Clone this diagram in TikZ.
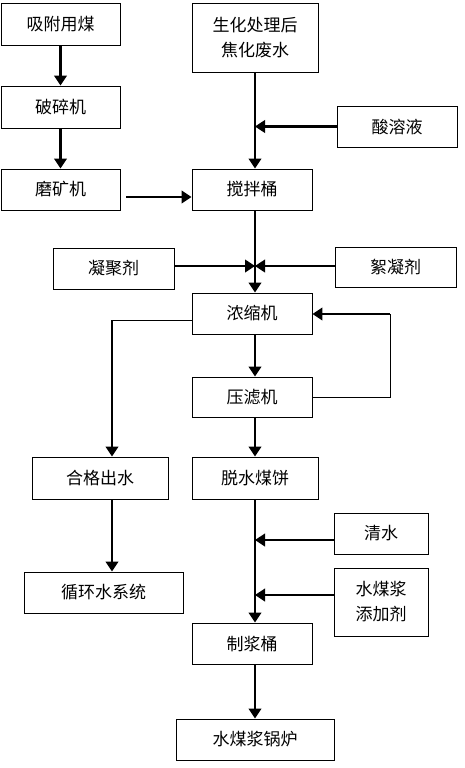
\documentclass[tikz,border=0pt]{standalone}
\usepackage{fontspec}
\newfontfamily\cjk{Noto Sans CJK SC}
\usetikzlibrary{arrows.meta,calc}
\begin{document}
\begin{tikzpicture}[x=1pt,y=-1pt,
  box/.style={draw,line width=0.9pt,inner sep=0pt,align=center,
    font=\cjk\fontsize{17}{25}\selectfont},
  flow/.style={line width=2.3pt,-{Triangle[width=12.5pt,length=10pt]}},
  thinline/.style={line width=0.9pt}]
\useasboundingbox (0,0) rectangle (464,768);
\node[box,minimum width=119pt,minimum height=42pt] (A) at (60.5,24) {吸附用煤};
\node[box,minimum width=119pt,minimum height=42pt] (B) at (60.5,107) {破碎机};
\node[box,minimum width=119pt,minimum height=41pt] (C) at (60.5,189.5) {磨矿机};
\node[box,minimum width=126pt,minimum height=69pt] (D) at (255,37.5) {生化处理后\\焦化废水};
\node[box,minimum width=120pt,minimum height=41pt] (E) at (397,126.5) {酸溶液};
\node[box,minimum width=120pt,minimum height=41pt] (F) at (252,189.5) {搅拌桶};
\node[box,minimum width=121pt,minimum height=41pt] (G) at (113.5,268.5) {凝聚剂};
\node[box,minimum width=121pt,minimum height=40pt] (H) at (395.5,267) {絮凝剂};
\node[box,minimum width=120pt,minimum height=41pt] (I) at (252,313.5) {浓缩机};
\node[box,minimum width=120pt,minimum height=40pt] (J) at (252,397) {压滤机};
\node[box,minimum width=136pt,minimum height=42pt] (K) at (100,478) {合格出水};
\node[box,minimum width=126pt,minimum height=42pt] (L) at (255,478) {脱水煤饼};
\node[box,minimum width=159pt,minimum height=41pt] (M) at (103.5,592.5) {循环水系统};
\node[box,minimum width=94pt,minimum height=41pt] (N) at (381,533.5) {清水};
\node[box,minimum width=94pt,minimum height=68pt] (O) at (381,602) {水煤浆\\添加剂};
\node[box,minimum width=120pt,minimum height=41pt] (P) at (252,643.5) {制浆桶};
\node[box,minimum width=158pt,minimum height=41pt] (Q) at (255,739.5) {水煤浆锅炉};
% named coordinates
\coordinate (c1) at (126,197);
\coordinate (j) at (255,266);
\coordinate (r1) at (390,397);
\coordinate (r2) at (390,314);
\coordinate (l1) at (112,320);
\coordinate (n1) at (334,540);
\coordinate (o1) at (334,595);
% left chain
\draw[flow] (A) -- (B);
\draw[flow] (B) -- (C);
\draw[flow] (c1) -- (c1 -| F.west);
% main line
\draw[flow] (D.south) -- (D.south |- F.north);
\draw[flow] (E.west) -- (E.west -| D.south);
\draw[flow] (F.south -| D.south) -- (I.north -| D.south);
\draw[flow] (j -| G.east) -- (j);
\draw[flow] (j -| H.west) -- (j);
\draw[flow] (I.south -| D.south) -- (J.north -| D.south);
\draw[flow] (J.south -| D.south) -- (L.north);
% feedback
\draw[thinline] (J.east |- r1) -- (r1) -- (r2);
\draw[flow] (r2) -- (r2 -| I.east);
% water out
\draw[thinline] (l1 -| I.west) -- (l1);
\draw[flow] (l1) -- (l1 |- K.north);
\draw[flow] (l1 |- K.south) -- (l1 |- M.north);
% slurry
\draw[flow] (L.south) -- (L.south |- P.north);
\draw[flow] (n1) -- (n1 -| D.south);
\draw[flow] (o1) -- (o1 -| D.south);
\draw[flow] (P.south -| D.south) -- (Q.north);
\end{tikzpicture}
\end{document}
